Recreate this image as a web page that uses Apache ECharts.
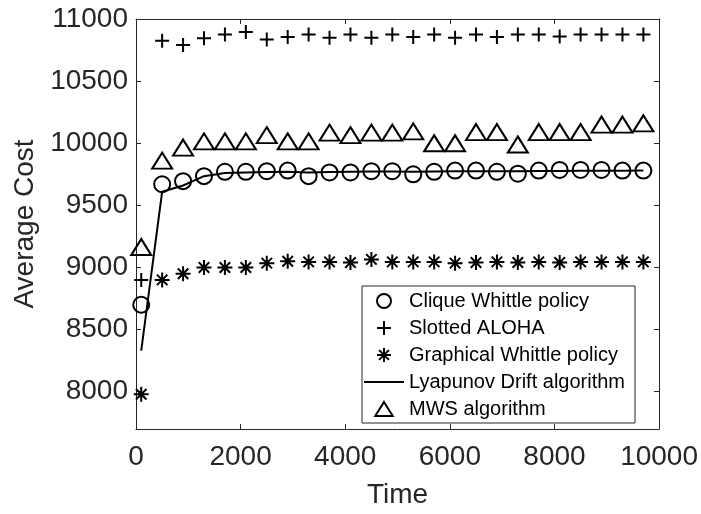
<!DOCTYPE html>
<html>
<head>
<meta charset="utf-8">
<script src="https://cdn.jsdelivr.net/npm/echarts@6/dist/echarts.min.js"></script>
<style>
html,body{margin:0;padding:0;background:#fff;}
#chart{width:701px;height:514px;}
</style>
</head>
<body>
<div id="chart"></div>
<script>
const timeSteps = [100, 500, 900, 1300, 1700, 2100, 2500, 2900, 3300, 3700, 4100, 4500, 4900, 5300, 5700, 6100, 6500, 6900, 7300, 7700, 8100, 8500, 8900, 9300, 9700];
const cliqueWhittle = [8700, 9670, 9695, 9735, 9770, 9770, 9775, 9780, 9735, 9765, 9765, 9775, 9775, 9750, 9770, 9780, 9780, 9770, 9755, 9780, 9785, 9785, 9785, 9780, 9780];
const slottedAloha = [8900, 10825, 10790, 10845, 10875, 10895, 10835, 10855, 10875, 10850, 10875, 10850, 10875, 10855, 10875, 10850, 10875, 10855, 10875, 10875, 10860, 10875, 10875, 10875, 10875];
const graphicalWhittle = [7980, 8900, 8950, 9000, 9000, 9000, 9035, 9050, 9045, 9045, 9040, 9065, 9045, 9045, 9045, 9035, 9040, 9045, 9040, 9045, 9040, 9045, 9045, 9045, 9045];
const lyapunovDrift = [8330, 9610, 9660, 9735, 9760, 9765, 9768, 9770, 9765, 9768, 9770, 9772, 9772, 9770, 9772, 9774, 9775, 9775, 9775, 9776, 9777, 9778, 9778, 9779, 9780];
const mwsAlgorithm = [9165, 9860, 9965, 10015, 10015, 10015, 10065, 10015, 10015, 10085, 10065, 10085, 10085, 10095, 10000, 10000, 10090, 10090, 9990, 10090, 10090, 10090, 10150, 10150, 10160];
const seriesNames = ['Clique Whittle policy', 'Slotted ALOHA', 'Graphical Whittle policy', 'Lyapunov Drift algorithm', 'MWS algorithm'];
const yTickValues = [8000, 8500, 9000, 9500, 10000, 10500, 11000];

const FONT = 'Liberation Sans, Arial, Helvetica, sans-serif';
const AX = '#262626';
const PLUS = 'path://M0,5L10,5M5,0L5,10';
const STAR = 'path://M0,5L10,5M5,0L5,10M1.5,1.5L8.5,8.5M1.5,8.5L8.5,1.5';
const TRI = 'path://M10,0L20,16L0,16Z';
const LINEICON = 'path://M0,0L40,0L40,2L0,2Z';

function pairs(ys) { return timeSteps.map((t, i) => [t, ys[i]]); }
const markerStyle = { color: 'transparent', borderColor: '#000', borderWidth: 2, opacity: 1 };
const plain = v => String(v);

const chart = echarts.init(document.getElementById('chart'), null, { renderer: 'canvas' });
chart.setOption({
  animation: false,
  backgroundColor: '#fff',
  textStyle: { fontFamily: FONT },
  grid: { left: 136, right: 41, top: 19, bottom: 78, containLabel: false },
  legend: {
    orient: 'vertical',
    left: 362, top: 286,
    padding: [5, 10, 4, 2],
    itemWidth: 40, itemHeight: 14, itemGap: 7,
    symbolKeepAspect: true,
    backgroundColor: '#fff',
    borderColor: AX, borderWidth: 1, borderRadius: 0,
    textStyle: { fontFamily: FONT, fontSize: 20, color: '#000' },
    itemStyle: { borderWidth: 2, borderColor: '#000', opacity: 1 },
    data: [
      { name: seriesNames[0], icon: 'circle' },
      { name: seriesNames[1], icon: PLUS },
      { name: seriesNames[2], icon: STAR },
      { name: seriesNames[3], icon: LINEICON, itemStyle: { color: '#000', borderWidth: 0 } },
      { name: seriesNames[4], icon: TRI }
    ]
  },
  xAxis: [{
    type: 'value', min: 0, max: 10000, interval: 2000,
    name: 'Time', nameLocation: 'middle', nameGap: 52,
    nameTextStyle: { fontFamily: FONT, fontSize: 28, color: AX },
    axisLine: { show: true, onZero: false, lineStyle: { color: AX, width: 1 } },
    axisTick: { show: true, inside: true, length: 5, lineStyle: { color: AX } },
    axisLabel: { fontFamily: FONT, fontSize: 28, color: AX, margin: 14, formatter: plain },
    splitLine: { show: false }
  }, {
    type: 'value', min: 0, max: 10000, interval: 2000, position: 'top',
    axisLine: { show: true, onZero: false, lineStyle: { color: AX, width: 1 } },
    axisTick: { show: true, inside: true, length: 5, lineStyle: { color: AX } },
    axisLabel: { show: false }, splitLine: { show: false }
  }],
  yAxis: [{
    type: 'value', min: 7700, max: 11000,
    name: 'Average Cost', nameLocation: 'middle', nameGap: 84,
    nameTextStyle: { fontFamily: FONT, fontSize: 28, color: AX },
    axisLine: { show: true, onZero: false, lineStyle: { color: AX, width: 1 } },
    axisTick: { show: true, inside: true, length: 5, lineStyle: { color: AX }, customValues: yTickValues },
    axisLabel: { fontFamily: FONT, fontSize: 28, color: AX, margin: 8, customValues: yTickValues, formatter: plain },
    splitLine: { show: false }
  }, {
    type: 'value', min: 7700, max: 11000, position: 'right',
    axisLine: { show: true, onZero: false, lineStyle: { color: AX, width: 1 } },
    axisTick: { show: true, inside: true, length: 5, lineStyle: { color: AX }, customValues: yTickValues },
    axisLabel: { show: false, customValues: yTickValues }, splitLine: { show: false }
  }],
  series: [
    { name: seriesNames[0], type: 'scatter', data: pairs(cliqueWhittle), symbol: 'circle', symbolSize: 16, itemStyle: markerStyle, z: 3 },
    { name: seriesNames[1], type: 'scatter', data: pairs(slottedAloha), symbol: PLUS, symbolSize: 14, itemStyle: markerStyle, z: 3 },
    { name: seriesNames[2], type: 'scatter', data: pairs(graphicalWhittle), symbol: STAR, symbolSize: 15, itemStyle: markerStyle, z: 3 },
    { name: seriesNames[3], type: 'line', data: pairs(lyapunovDrift), symbol: 'none', lineStyle: { color: '#000', width: 2 }, itemStyle: { color: '#000' }, z: 4 },
    { name: seriesNames[4], type: 'scatter', data: pairs(mwsAlgorithm), symbol: TRI, symbolSize: [20, 16], itemStyle: markerStyle, z: 3 }
  ]
});
</script>
</body>
</html>
